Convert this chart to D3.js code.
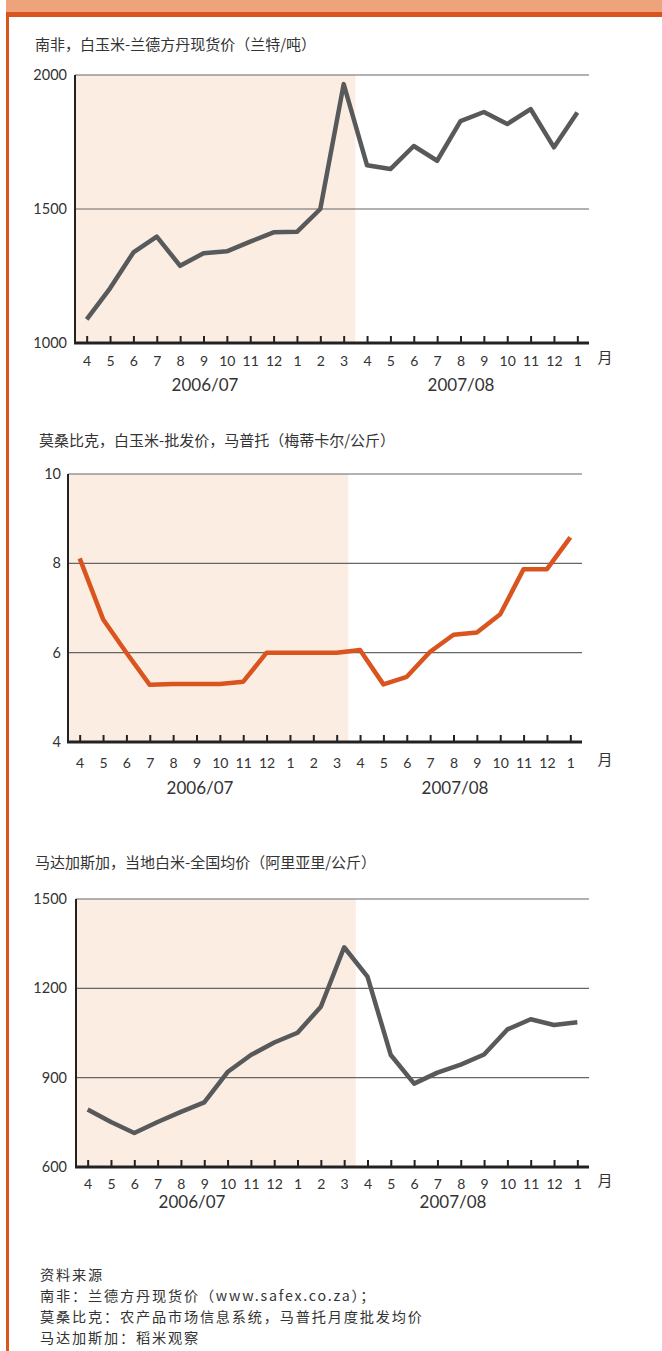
<!DOCTYPE html>
<html>
<head>
<meta charset="utf-8">
<script src="https://cdn.jsdelivr.net/npm/d3@7"></script>
<style>
  body { margin: 0; background: #fff; }
  text { fill: #333; }
</style>
</head>
<body>
<script>
// months on the x axis, April 2006 to January 2008
var months = ["4","5","6","7","8","9","10","11","12","1","2","3",
              "4","5","6","7","8","9","10","11","12","1"];
var periods = ["2006/07", "2007/08"];

var titles = [
  "南非，白玉米-兰德方丹现货价（兰特/吨）",
  "莫桑比克，白玉米-批发价，马普托（梅蒂卡尔/公斤）",
  "马达加斯加，当地白米-全国均价（阿里亚里/公斤）"
];

var southAfrica = [1088,1204,1338,1397,1288,1335,1342,1378,1413,1415,1500,1966,
                   1663,1649,1735,1680,1828,1862,1817,1873,1730,1860];
var mozambique  = [8.11,6.75,6.0,5.28,5.30,5.30,5.30,5.35,6.0,6.0,6.0,6.0,
                   6.06,5.29,5.46,6.02,6.40,6.45,6.86,7.87,7.87,8.58];
var madagascar  = [793,751,714,751,785,817,919,976,1018,1051,1138,1338,
                   1239,976,880,917,944,978,1062,1096,1077,1086];

var saTicks = [1000, 1500, 2000];
var mzTicks = [4, 6, 8, 10];
var mgTicks = [600, 900, 1200, 1500];

var sources = [
  "资料来源",
  "南非：兰德方丹现货价（www.safex.co.za）；",
  "莫桑比克：农产品市场信息系统，马普托月度批发均价",
  "马达加斯加：稻米观察"
];

var W = 662, H = 1351;
var gray = "#58595b", orange = "#d9541e", shade = "#fcede3";
var cjk = "'Noto Sans CJK SC', 'Noto Sans', sans-serif";
var num = "Lato, 'Open Sans', sans-serif";

var svg = d3.select("body").append("svg")
  .attr("width", W)
  .attr("height", H);

// header band and left rule
svg.append("rect").attr("x", 6).attr("y", 0).attr("width", W - 6).attr("height", 12).attr("fill", "#eea47b");
svg.append("rect").attr("x", 6).attr("y", 12).attr("width", W - 6).attr("height", 5).attr("fill", orange);
svg.append("rect").attr("x", 6).attr("y", 12).attr("width", 3).attr("height", H - 12).attr("fill", orange);

var charts = [
  {title: titles[0], values: southAfrica, ticks: saTicks, color: gray,
   left: 75, right: 589, top: 75, bottom: 343, titleX: 35, titleY: 45,
   tickDy: 18, yearDy: 42, yearX: [205, 461], labelRight: 67},
  {title: titles[1], values: mozambique, ticks: mzTicks, color: orange,
   left: 68, right: 582, top: 474, bottom: 742, titleX: 39, titleY: 441,
   tickDy: 21, yearDy: 46, yearX: [200, 455], labelRight: 61},
  {title: titles[2], values: madagascar, ticks: mgTicks, color: gray,
   left: 76, right: 589, top: 899, bottom: 1167, titleX: 35, titleY: 863,
   tickDy: 17, yearDy: 35, yearX: [192, 453], labelRight: 67}
];

charts.forEach(drawChart);

function drawChart(c) {
  var g = svg.append("g");

  var x = d3.scalePoint()
    .domain(d3.range(months.length))
    .range([c.left, c.right])
    .padding(0.5);
  var step = x.step();

  var y = d3.scaleLinear()
    .domain(d3.extent(c.ticks))
    .range([c.bottom, c.top]);

  // title
  g.append("text")
    .attr("x", c.titleX)
    .attr("y", c.titleY)
    .attr("dy", "0.35em")
    .style("font-family", cjk)
    .style("font-size", "15px")
    .text(c.title);

  // shaded first season
  g.append("rect")
    .attr("x", c.left)
    .attr("y", c.top)
    .attr("width", x(11) + step / 2 - c.left)
    .attr("height", c.bottom - c.top)
    .attr("fill", shade);

  // grid lines
  g.selectAll(".grid")
    .data(c.ticks.slice(1))
    .enter().append("line")
    .attr("x1", c.left).attr("x2", c.right)
    .attr("y1", function(d) { return y(d); })
    .attr("y2", function(d) { return y(d); })
    .attr("stroke", "#666")
    .attr("stroke-width", 1.2);

  // y labels
  g.selectAll(".ylab")
    .data(c.ticks)
    .enter().append("text")
    .attr("x", c.labelRight)
    .attr("y", function(d) { return y(d); })
    .attr("dy", "0.35em")
    .attr("text-anchor", "end")
    .style("font-family", num)
    .style("font-size", "14.5px")
    .text(function(d) { return d; });

  // left axis
  g.append("line")
    .attr("x1", c.left).attr("x2", c.left)
    .attr("y1", c.top).attr("y2", c.bottom + 1)
    .attr("stroke", "#222").attr("stroke-width", 2);

  // bottom axis with ticks pointing up
  var xAxis = d3.axisBottom(x)
    .tickSize(-7)
    .tickFormat(function(i) { return months[i]; });

  var ax = g.append("g")
    .attr("transform", "translate(0," + c.bottom + ")")
    .call(xAxis);
  ax.select(".domain").remove();
  ax.selectAll(".tick line").attr("stroke", "#222").attr("stroke-width", 2);
  ax.selectAll(".tick text")
    .attr("y", c.tickDy)
    .attr("dy", "0.35em")
    .style("font-family", num)
    .style("font-size", "14px")
    .style("fill", "#333");
  ax.append("line")
    .attr("x1", c.left - 1).attr("x2", c.right)
    .attr("y1", 0).attr("y2", 0)
    .attr("stroke", "#222").attr("stroke-width", 3);

  // season labels
  g.selectAll(".year")
    .data(periods)
    .enter().append("text")
    .attr("x", function(d, i) { return c.yearX[i]; })
    .attr("y", c.bottom + c.yearDy)
    .attr("dy", "0.35em")
    .attr("text-anchor", "middle")
    .style("font-family", num)
    .style("font-size", "17px")
    .text(function(d) { return d; });

  g.append("text")
    .attr("x", 605)
    .attr("y", c.bottom + c.tickDy - 3)
    .attr("dy", "0.35em")
    .attr("text-anchor", "middle")
    .style("font-family", cjk)
    .style("font-size", "15px")
    .text("月");

  // price line
  var line = d3.line()
    .x(function(d, i) { return x(i); })
    .y(function(d) { return y(d); });

  g.append("path")
    .datum(c.values)
    .attr("d", line)
    .attr("fill", "none")
    .attr("stroke", c.color)
    .attr("stroke-width", 4.5)
    .attr("stroke-linejoin", "round");
}

// sources
svg.append("g").selectAll("text")
  .data(sources)
  .enter().append("text")
  .attr("x", 40)
  .attr("y", function(d, i) { return 1275 + i * 21; })
  .attr("dy", "0.35em")
  .style("font-family", cjk)
  .style("font-size", "14.2px")
  .style("letter-spacing", "1.8px")
  .text(function(d) { return d; });
</script>
</body>
</html>
